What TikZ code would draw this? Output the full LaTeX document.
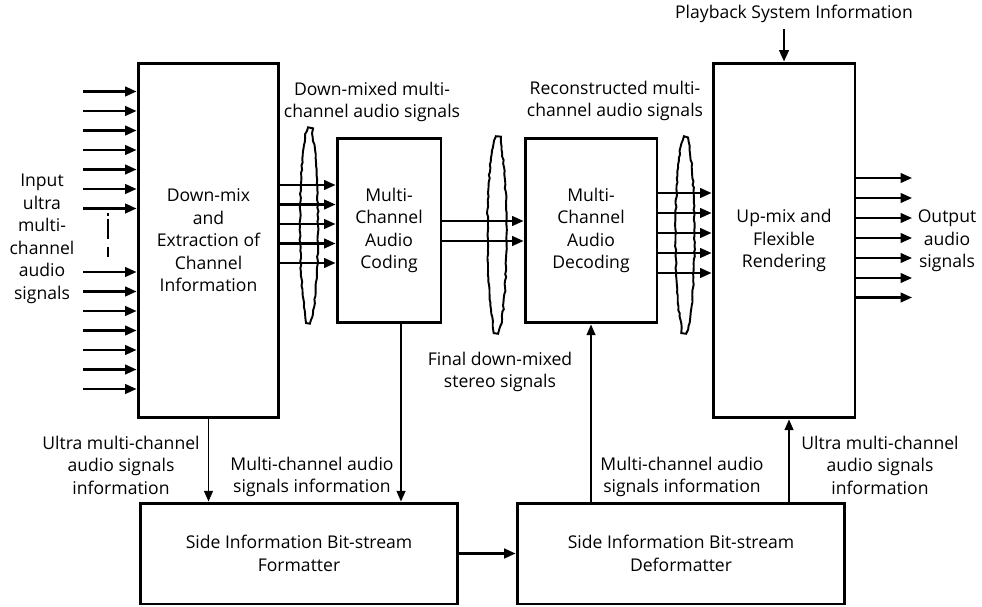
\documentclass[tikz,border=0pt]{standalone}
\usepackage{fontspec}
\setmainfont{Open Sans}
\usepackage{tikz}
\usetikzlibrary{arrows.meta,decorations.pathmorphing}

\tikzset{
    block/.style={draw, line width=1.7pt},
    sig/.style={-{Triangle[length=6.5pt,width=5.5pt]}, line width=1.2pt},
    info/.style={-{Triangle[length=6pt,width=5pt]}, line width=0.9pt},
    bundle/.style={line width=1.1pt, decorate, decoration={random steps, segment length=2pt, amplitude=0.35pt}},
}

\begin{document}
\begin{tikzpicture}[x=0.02cm, y=-0.02cm, every node/.style={font=\fontsize{10}{12.8}\selectfont, align=center}]
    \useasboundingbox (0,0) rectangle (982,607);

    % Processing blocks
    \node[block, minimum width=2.82cm, minimum height=7.1cm] (downmix) at (208.5,240.5) {Down-mix\\and\\Extraction of\\Channel\\Information};
    \node[block, minimum width=2.08cm, minimum height=3.7cm] (coding) at (389,230.5) {Multi-\\Channel\\Audio\\Coding};
    \node[block, minimum width=2.64cm, minimum height=3.7cm] (decoding) at (591,230.5) {Multi-\\Channel\\Audio\\Decoding};
    \node[block, minimum width=2.84cm, minimum height=7.1cm] (upmix) at (784,240.5) {Up-mix and\\Flexible\\Rendering};

    % Side information blocks
    \node[block, minimum width=6.36cm, minimum height=2.02cm] (formatter) at (299,553.5) {Side Information Bit-stream\\Formatter};
    \node[block, minimum width=6.56cm, minimum height=2.02cm] (deformatter) at (681,553.5) {Side Information Bit-stream\\Deformatter};

    % Labels
    \node (input) at (42,239) {Input\\ultra\\multi-\\channel\\audio\\signals};
    \node (output) at (947,241) {Output\\audio\\signals};
    \node (playback) at (794,14) {Playback System Information};
    \node (downmixed) at (372,102) {Down-mixed multi-\\channel audio signals};
    \node (reconstructed) at (615,101) {Reconstructed multi-\\channel audio signals};
    \node (stereo) at (500,372) {Final down-mixed\\stereo signals};
    \node (ultrainfoL) at (121,465) {Ultra multi-channel\\audio signals\\information};
    \node (multiinfoL) at (312,477) {Multi-channel audio\\signals information};
    \node (multiinfoR) at (682,477) {Multi-channel audio\\signals information};
    \node (ultrainfoR) at (880,465) {Ultra multi-channel\\audio signals\\information};

    % Input channels
    \foreach \y [count=\i] in {91.5,111,130.5,150,169.5,189,208.5,272,291.5,311,330.5,350,369.5,389} {
        \coordinate (in\i) at (83,\y);
        \draw[sig] (in\i) -- (in\i -| downmix.west);
    }
    \draw[line width=1.2pt, dash pattern=on 1.7pt off 1.7pt on 11.3pt off 4.5pt on 5.7pt off 10pt] (108,213) -- (108,258);

    % Channel bundles
    \foreach \y in {185,204.5,224,243.5,263}
        \draw[sig] (downmix.east |- 0,\y) -- (coding.west |- 0,\y);
    \foreach \y in {221,241}
        \draw[sig] (coding.east |- 0,\y) -- (decoding.west |- 0,\y);
    \foreach \y in {193,213,233,253,273}
        \draw[sig] (decoding.east |- 0,\y) -- (upmix.west |- 0,\y);
    \draw[bundle] (309,225.5) ellipse [x radius=9, y radius=97.5];
    \draw[bundle] (497,235) ellipse [x radius=9.5, y radius=98];
    \draw[bundle] (685,235) ellipse [x radius=9.5, y radius=98];

    % Output channels
    \foreach \y [count=\i] in {178,198,218,238,258,278,297.5} {
        \coordinate (out\i) at (912,\y);
        \draw[sig] (out\i -| upmix.east) -- (out\i);
    }
    \draw[sig] (upmix.north |- playback.south) -- (upmix.north);

    % Side information paths
    \coordinate (codeout) at ([xshift=0.24cm]coding.south);
    \coordinate (upmixin) at ([xshift=0.1cm]upmix.south);
    \draw[info] (downmix.south) -- (downmix.south |- formatter.north);
    \draw[info] (codeout) -- (codeout |- formatter.north);
    \draw[info] (decoding.south |- deformatter.north) -- (decoding.south);
    \draw[info] (upmixin |- deformatter.north) -- (upmixin);
    \draw[sig, line width=1.4pt] (formatter) -- (deformatter);
\end{tikzpicture}
\end{document}
